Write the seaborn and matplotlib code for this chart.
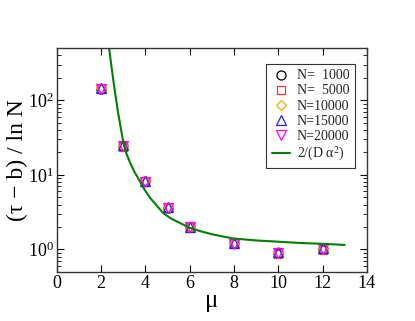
import numpy as np
import pandas as pd
import seaborn as sns
import matplotlib.pyplot as plt
from matplotlib.ticker import LogLocator, MultipleLocator, NullFormatter

# Data
mu = [2, 3, 4, 5, 6, 8, 10, 12]
sizes = ["N=  1000", "N=  5000", "N=10000", "N=15000", "N=20000"]
vals_1000 = [143, 24.5, 8.2, 3.65, 2.00, 1.21, 0.89, 1.01]
vals_5000 = [140, 23.8, 8.0, 3.60, 1.97, 1.19, 0.88, 0.99]
vals_10000 = [144, 24.6, 8.2, 3.68, 2.01, 1.22, 0.90, 1.02]
vals_15000 = [146, 25.0, 8.3, 3.72, 2.03, 1.23, 0.91, 1.03]
vals_20000 = [142, 24.2, 8.1, 3.63, 1.99, 1.20, 0.89, 1.00]

# theory curve 2/(D alpha^2)
curve_mu = [2.36, 2.45, 2.54, 2.65, 2.76, 2.9, 3.03, 3.15, 3.29, 3.5, 3.74,
            3.95, 4.19, 4.5, 4.79, 5.15, 5.55, 6.0, 6.5, 7.0, 7.5, 8.0,
            9.0, 10.0, 11.0, 12.0, 13.0]
curve_val = [500, 310, 195, 115, 70, 40, 25, 19, 15, 11, 8.3,
             6.4, 5.0, 3.9, 3.1, 2.6, 2.27, 1.95, 1.75, 1.60, 1.49, 1.40,
             1.32, 1.27, 1.22, 1.19, 1.15]

series = [vals_1000, vals_5000, vals_10000, vals_15000, vals_20000]
colors = ["black", "#ff3030", "#ffa500", "#2020ff", "#ff00ff"]
markers = ["o", "s", "D", "^", "v"]
msizes = [6.5, 6, 5, 6.5, 6.5]

sns.set_style("ticks")
plt.rcParams['font.family'] = ['Liberation Serif', 'DejaVu Serif']
plt.rcParams['mathtext.fontset'] = 'stix'
plt.rcParams['xtick.color'] = 'black'
plt.rcParams['ytick.color'] = 'black'
plt.rcParams['xtick.labelcolor'] = 'black'
plt.rcParams['ytick.labelcolor'] = 'black'
plt.rcParams['axes.labelcolor'] = 'black'

fig = plt.figure(figsize=(4.15, 3.21), dpi=100)
ax = fig.add_axes([0.137, 0.153, 0.747, 0.697])

for label, vals, c, m, ms in zip(sizes, series, colors, markers, msizes):
    df = pd.DataFrame({'mu': mu, 'val': vals})
    sns.lineplot(data=df, x='mu', y='val', ax=ax, estimator=None, linestyle='',
                 marker=m, markersize=ms, mfc='none', mec=c, mew=0.9,
                 color=c, label=label)

curve = pd.DataFrame({'mu': curve_mu, 'val': curve_val})
sns.lineplot(data=curve, x='mu', y='val', ax=ax, estimator=None, color='#008000',
             linewidth=1.5, label=r'2/(D α$^2$)')

ax.set_yscale('log')
ax.set_xlim(0, 14)
ax.set_ylim(0.5, 500)
ax.xaxis.set_major_locator(MultipleLocator(2))
ax.yaxis.set_major_locator(LogLocator(base=10, numticks=10))
ax.yaxis.set_minor_locator(LogLocator(base=10, subs=np.arange(2, 10), numticks=10))
ax.yaxis.set_minor_formatter(NullFormatter())
ax.tick_params(which='both', direction='in', top=True, right=True, labelsize=13)
ax.tick_params(which='major', length=5, width=0.8)
ax.tick_params(which='minor', length=3, width=0.6)
ax.tick_params(axis='y', pad=2)
ax.tick_params(axis='x', pad=2)
for s in ax.spines.values():
    s.set_linewidth(1.0)
    s.set_color('#333333')

ax.set_xlabel('μ', fontsize=18, labelpad=-1)
ax.set_ylabel('(τ − b) / ln N', fontsize=17, labelpad=0)

leg = ax.legend(loc='upper right', bbox_to_anchor=(0.962, 0.93), fontsize=10,
                frameon=True, fancybox=False, handlelength=1.3, handletextpad=0.5,
                borderpad=0.4, labelspacing=0.15, borderaxespad=0)
leg.get_frame().set_edgecolor('black')
leg.get_frame().set_linewidth(0.8)

fig.savefig('out.png', dpi=100)
